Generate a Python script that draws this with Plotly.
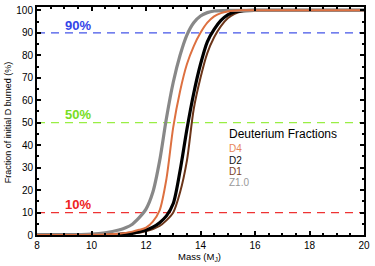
import plotly.graph_objects as go

# Data
mass_z10 = [8, 9, 10, 10.5, 11, 11.25, 11.5, 11.75, 12, 12.25, 12.5, 12.75, 13, 13.25, 13.5, 13.75, 14, 14.25, 14.5, 15, 16, 18, 20]
frac_z10 = [0, 0.05, 0.4, 1.0, 2.2, 3.2, 4.8, 7.7, 11.5, 19, 33, 52, 68, 80, 89, 94.5, 97.5, 99, 99.7, 100, 100, 100, 100]

mass_d4 = [8, 10, 11, 11.5, 11.75, 12, 12.25, 12.5, 12.75, 13, 13.25, 13.5, 13.75, 14, 14.25, 14.5, 14.75, 15, 15.5, 16, 18, 20]
frac_d4 = [0, 0.1, 0.6, 1.5, 2.3, 3.3, 6, 11, 25, 48, 64, 76, 84, 90, 94.5, 97.3, 98.8, 99.5, 100, 100, 100, 100]

mass_d2 = [8, 10, 11, 11.5, 12, 12.25, 12.5, 12.75, 13, 13.25, 13.5, 13.75, 14, 14.25, 14.5, 14.75, 15, 15.25, 15.5, 16, 18, 20]
frac_d2 = [0, 0.05, 0.3, 0.8, 2.2, 3.5, 5.5, 8.5, 14, 28.6, 47, 63, 76, 86, 91.5, 95.5, 98, 99.3, 99.8, 100, 100, 100]

mass_d1 = [8, 10, 11, 11.5, 12, 12.5, 12.75, 13, 13.25, 13.5, 13.75, 14, 14.25, 14.5, 14.75, 15, 15.25, 15.5, 16, 18, 20]
frac_d1 = [0, 0.03, 0.2, 0.6, 1.6, 4, 6.5, 10, 19, 33, 56, 70, 81, 88, 93, 96.5, 98.5, 99.5, 100, 100, 100]

x_ticks = [8, 10, 12, 14, 16, 18, 20]
y_ticks = [0, 10, 20, 30, 40, 50, 60, 70, 80, 90, 100]

levels = [90, 50, 10]
level_labels = ["90%", "50%", "10%"]
level_line_colors = ["#4455E8", "#99EE44", "#EE3333"]
level_text_colors = ["#3344E8", "#77DD22", "#EE2222"]
label_x = 9.5
label_y = [93.4, 53.7, 13.7]

legend_title = "Deuterium Fractions"
legend_names = ["D4", "D2", "D1", "Z1.0"]
legend_colors = ["#E8865A", "#111111", "#7B3F1F", "#999999"]

FONT = "Liberation Sans, Arial, sans-serif"
W, H = 375, 266
L, R, T, B = 37, 8, 5, 31
pw, ph = W - L - R, H - T - B


def px(xp):
    return (xp - L) / pw


def py(yp):
    return (H - yp - B) / ph


fig = go.Figure()

x_range = [8, 20]
for lv, col in zip(levels, level_line_colors):
    fig.add_trace(go.Scatter(x=x_range, y=[lv, lv], mode="lines",
                             line=dict(color=col, width=1.3, dash="8px,6px"),
                             hoverinfo="skip", showlegend=False))

fig.add_trace(go.Scatter(x=mass_d1, y=frac_d1, mode="lines", name="D1",
                         line=dict(color="#6B3519", width=2, shape="spline", smoothing=0.8)))
fig.add_trace(go.Scatter(x=mass_d2, y=frac_d2, mode="lines", name="D2",
                         line=dict(color="#000000", width=3.2, shape="spline", smoothing=0.8)))
fig.add_trace(go.Scatter(x=mass_z10, y=frac_z10, mode="lines", name="Z1.0",
                         line=dict(color="#888888", width=3.2, shape="spline", smoothing=0.8)))
fig.add_trace(go.Scatter(x=mass_d4, y=frac_d4, mode="lines", name="D4",
                         line=dict(color="#DD7040", width=2, shape="spline", smoothing=0.8)))

annotations = []
for txt, col, yy in zip(level_labels, level_text_colors, label_y):
    annotations.append(dict(x=label_x, y=yy, xref="x", yref="y", text="<b>" + txt + "</b>",
                            showarrow=False, font=dict(size=13, color=col, family=FONT)))

annotations.append(dict(x=px(229), y=py(133), xref="paper", yref="paper", text=legend_title,
                        showarrow=False, xanchor="left", yanchor="middle",
                        font=dict(size=12, color="#000000", family=FONT)))
for i, (nm, col) in enumerate(zip(legend_names, legend_colors)):
    annotations.append(dict(x=px(229), y=py(148 + i * 11.5), xref="paper", yref="paper", text=nm,
                            showarrow=False, xanchor="left", yanchor="middle",
                            font=dict(size=10, color=col, family=FONT)))

# axis titles
annotations.append(dict(x=px(201), y=py(257), xref="paper", yref="paper",
                        text="Mass (M<sub>J</sub>)", showarrow=False,
                        xanchor="center", yanchor="middle",
                        font=dict(size=9.5, color="#000000", family=FONT)))
annotations.append(dict(x=px(8), y=py(121), xref="paper", yref="paper",
                        text="Fraction of initial D burned (%)", showarrow=False, textangle=-90,
                        xanchor="center", yanchor="middle",
                        font=dict(size=9, color="#000000", family=FONT)))

fig.update_layout(
    width=W, height=H,
    margin=dict(l=L, r=R, t=T, b=B),
    plot_bgcolor="white", paper_bgcolor="white",
    showlegend=False,
    font=dict(family=FONT, size=10, color="#000000"),
    annotations=annotations,
)

fig.update_xaxes(range=[8, 20], tickvals=x_ticks,
                 ticks="inside", ticklen=4, tickwidth=1.5, tickcolor="black",
                 minor=dict(dtick=0.5, ticks="inside", ticklen=2, tickcolor="black"),
                 showline=True, linecolor="black", linewidth=2, mirror="ticks",
                 showgrid=False, zeroline=False, ticklabeloverflow="allow",
                 tickfont=dict(size=10))
fig.update_yaxes(range=[0, 101.5], tickvals=y_ticks,
                 ticks="inside", ticklen=4, tickwidth=1.5, tickcolor="black",
                 minor=dict(dtick=5, ticks="inside", ticklen=2, tickcolor="black"),
                 showline=True, linecolor="black", linewidth=2, mirror="ticks",
                 showgrid=False, zeroline=False,
                 tickfont=dict(size=10))

fig.write_html("out.html",
               config={"displayModeBar": False},
               post_script="document.body.style.margin='0';document.body.style.overflow='hidden';")
